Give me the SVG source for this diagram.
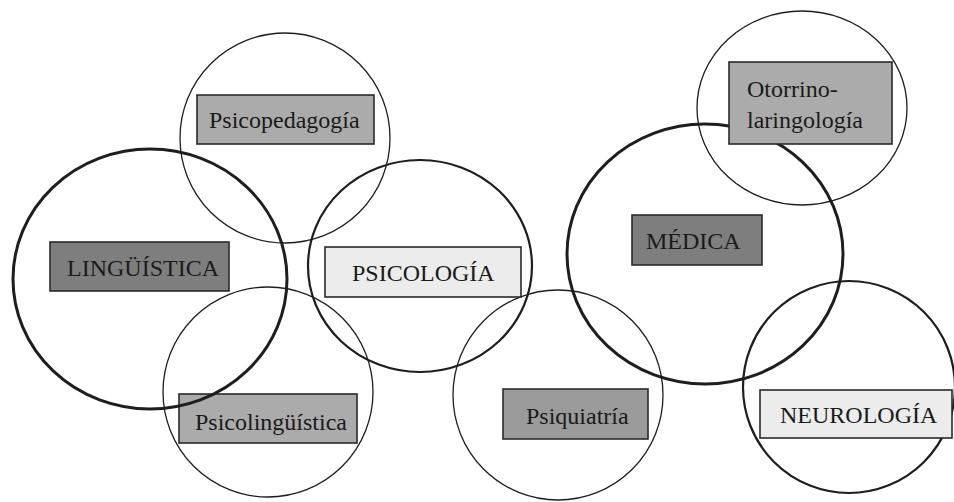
<svg xmlns="http://www.w3.org/2000/svg" width="954" height="502" viewBox="0 0 954 502">
<style>
.c{fill:none;stroke:#1e1e1e}
.thin{stroke-width:1.3}
.mid{stroke-width:2.2}
.thick{stroke-width:3}
.b{stroke:#2a2a2a;stroke-width:1.6}
.dark{fill:#7e7e7e}
.med{fill:#ababab}
.md2{fill:#9b9b9b}
.light{fill:#ececec}
text{font-family:"Liberation Serif","Times New Roman",serif;font-size:24px;fill:#1a1a1a}
</style>
<rect width="954" height="502" fill="#ffffff"/>
<g id="psicopedagogia">
<circle class="c thin" cx="285" cy="138" r="105"/>
<rect class="b med" x="197" y="95" width="177" height="49"/>
<text x="209" y="128">Psicopedagogía</text>
</g>
<g id="psicolinguistica">
<circle class="c thin" cx="268" cy="392" r="105"/>
<rect class="b med" x="179" y="394" width="178" height="49"/>
<text x="195" y="430">Psicolingüística</text>
</g>
<g id="psiquiatria">
<circle class="c thin" cx="558" cy="395" r="105"/>
<rect class="b md2" x="503" y="389" width="145" height="50"/>
<text x="526" y="424">Psiquiatría</text>
</g>
<g id="linguistica">
<ellipse class="c thick" cx="150" cy="279" rx="137" ry="130"/>
<rect class="b dark" x="50" y="242" width="179" height="49"/>
<text x="67" y="276">LINGÜÍSTICA</text>
</g>
<g id="psicologia">
<ellipse class="c mid" cx="420" cy="266" rx="112" ry="106"/>
<rect class="b light" x="325" y="247" width="196" height="50"/>
<text x="352" y="281">PSICOLOGÍA</text>
</g>
<g id="medica">
<ellipse class="c thick" cx="705" cy="254" rx="138" ry="130"/>
<rect class="b dark" x="632" y="215" width="130" height="50"/>
<text x="646" y="249">MÉDICA</text>
</g>
<g id="otorrinolaringologia">
<ellipse class="c thin" cx="802" cy="108" rx="105" ry="97"/>
<rect class="b med" x="729" y="62" width="163" height="82"/>
<text x="747" y="97">Otorrino-</text>
<text x="747" y="128">laringología</text>
</g>
<g id="neurologia">
<circle class="c mid" cx="849" cy="387" r="106"/>
<rect class="b light" x="760" y="390" width="192" height="48"/>
<text x="780" y="423">NEUROLOGÍA</text>
</g>
</svg>
